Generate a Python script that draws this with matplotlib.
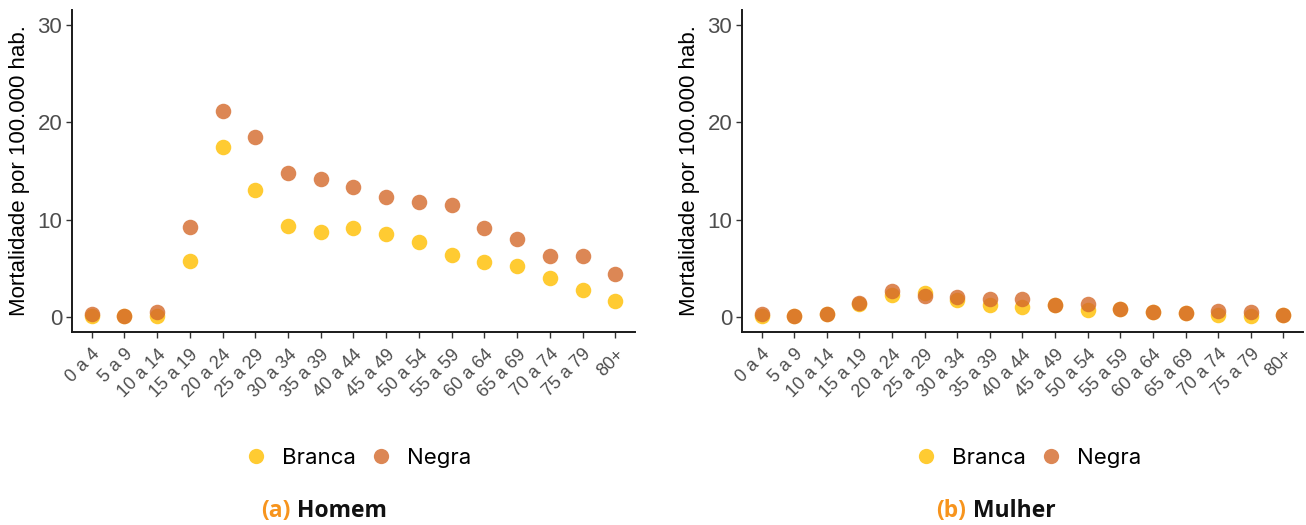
import matplotlib
matplotlib.use("Agg")
import matplotlib.pyplot as plt
from matplotlib.lines import Line2D

categories = ["0 a 4", "5 a 9", "10 a 14", "15 a 19", "20 a 24", "25 a 29", "30 a 34",
              "35 a 39", "40 a 44", "45 a 49", "50 a 54", "55 a 59", "60 a 64",
              "65 a 69", "70 a 74", "75 a 79", "80+"]

homem_branca = [0.1, 0.1, 0.1, 5.8, 17.5, 13.1, 9.4, 8.7, 9.2, 8.5, 7.7, 6.4, 5.7, 5.3, 4.0, 2.8, 1.7]
homem_negra = [0.3, 0.1, 0.5, 9.3, 21.2, 18.5, 14.8, 14.2, 13.4, 12.3, 11.8, 11.5, 9.2, 8.0, 6.3, 6.3, 4.4]

mulher_branca = [0.1, 0.1, 0.35, 1.4, 2.3, 2.5, 1.8, 1.3, 1.1, 1.3, 0.8, 0.9, 0.55, 0.4, 0.2, 0.1, 0.25]
mulher_negra = [0.3, 0.1, 0.35, 1.5, 2.7, 2.2, 2.1, 1.9, 1.9, 1.3, 1.4, 0.9, 0.55, 0.4, 0.65, 0.55, 0.25]

series_names = ["Branca", "Negra"]
panel_letters = ["(a)", "(b)"]
panel_titles = ["Homem", "Mulher"]
yticks = [0, 10, 20, 30]
ylabel = "Mortalidade por 100.000 hab."

col_branca = "#FFC20E"
col_negra = "#D4692A"
axis_font = ["Liberation Sans", "DejaVu Sans"]

fig = plt.figure(figsize=(13.06, 5.25), dpi=100)
axes_pos = [[0.0551, 0.3676, 0.4311, 0.6133], [0.5681, 0.3676, 0.4296, 0.6133]]
data = [(homem_branca, homem_negra), (mulher_branca, mulher_negra)]
legend_x = [358 / 1306, 1028 / 1306]
cap_x = [290 / 1306, 966 / 1306]

x = list(range(1, len(categories) + 1))
for i, (pos, (b, n)) in enumerate(zip(axes_pos, data)):
    ax = fig.add_axes(pos)
    ax.scatter(x, b, s=125, color=col_branca, alpha=0.85, linewidths=0, zorder=3)
    ax.scatter(x, n, s=125, color=col_negra, alpha=0.8, linewidths=0, zorder=4)
    ax.set_xlim(0.4, len(categories) + 0.6)
    ax.set_ylim(-1.5, 31.5)
    ax.set_yticks(yticks)
    ax.set_yticklabels([str(v) for v in yticks], fontsize=16, color="#4D4D4D",
                       family=axis_font)
    ax.set_xticks(x)
    ax.set_xticklabels(categories, rotation=45, ha="right", va="top", fontsize=13,
                       color="#4D4D4D", family=axis_font, rotation_mode="anchor")
    ax.tick_params(axis="both", length=4, width=1.0, color="#333333")
    ax.tick_params(axis="x", pad=6)
    ax.tick_params(axis="y", pad=3)
    for s in ["top", "right"]:
        ax.spines[s].set_visible(False)
    for s in ["left", "bottom"]:
        ax.spines[s].set_linewidth(1.4)
        ax.spines[s].set_color("#1a1a1a")
    ax.set_ylabel(ylabel, fontsize=16, family=axis_font, labelpad=5)

    handles = [Line2D([0], [0], marker="o", linestyle="", markersize=11,
                      markerfacecolor=col_branca, markeredgewidth=0, alpha=0.85),
               Line2D([0], [0], marker="o", linestyle="", markersize=11,
                      markerfacecolor=col_negra, markeredgewidth=0, alpha=0.8)]
    fig.legend(handles, series_names, loc="center", bbox_to_anchor=(legend_x[i], 0.128),
               ncol=2, frameon=False, prop={"family": ["Inter", "DejaVu Sans"], "size": 16},
               handletextpad=0.7, columnspacing=0.6, handlelength=1.0)

    fig.text(cap_x[i], 0.026, panel_letters[i], ha="right", va="center", fontsize=16.5,
             fontweight="bold", color="#F7941D", family=["Open Sans", "DejaVu Sans"])
    fig.text(cap_x[i] + 0.005, 0.026, panel_titles[i], ha="left", va="center", fontsize=16.5,
             fontweight="bold", color="#111111", family=["Open Sans", "DejaVu Sans"])

fig.savefig("out.png", dpi=100, facecolor="white")
